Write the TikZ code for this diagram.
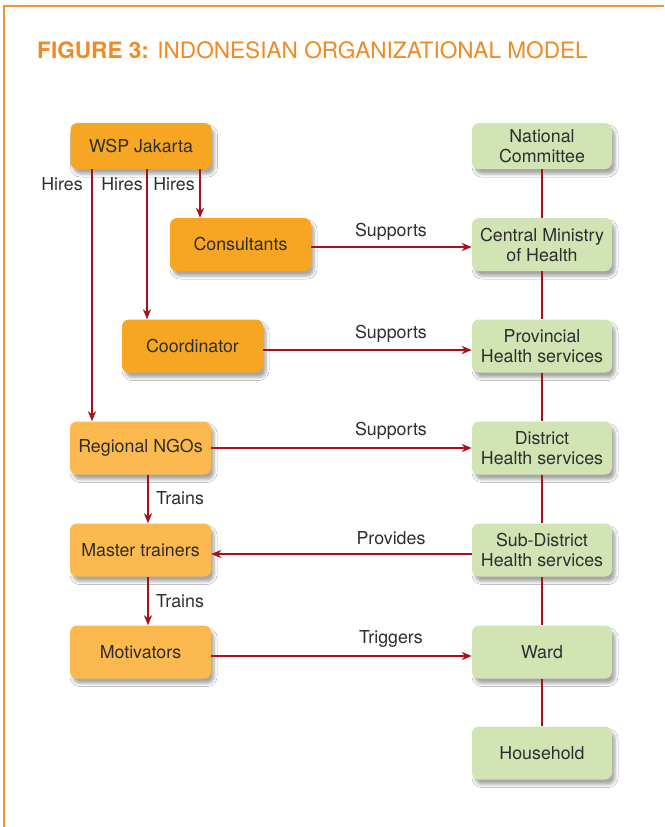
\documentclass[tikz,border=0pt]{standalone}
\usepackage{fontspec}
\setmainfont{TeX Gyre Heros}
\usetikzlibrary{arrows.meta,shadows.blur}
\definecolor{frameor}{HTML}{F39433}
\definecolor{titleor}{HTML}{F08A24}
\definecolor{darkor}{HTML}{F6A623}
\definecolor{lightor}{HTML}{FBB94F}
\definecolor{boxgreen}{HTML}{D2E4B4}
\definecolor{linered}{HTML}{A8101C}
\definecolor{txt}{HTML}{2E2E2E}
\begin{document}
\begin{tikzpicture}[x=1pt,y=-1pt,
  box/.style={rectangle, rounded corners=7pt, minimum width=141pt, minimum height=53pt,
    inner sep=0pt, text=txt, font=\fontsize{17.8}{20}\selectfont, align=center,
    blur shadow={shadow xshift=3pt, shadow yshift=-5pt, shadow blur radius=3pt, shadow opacity=35}},
  dbox/.style={box, fill=darkor},
  lbox/.style={box, fill=lightor},
  gbox/.style={box, fill=boxgreen, minimum width=140pt},
  lbl/.style={text=txt, font=\fontsize{17.8}{20}\selectfont, inner sep=0pt},
  conn/.style={draw=linered, line width=2pt},
  arr/.style={conn, -{Stealth[length=10pt,width=8pt,inset=3pt]}}
]
\useasboundingbox (0,0) rectangle (664,827);
\fill[white] (0,0) rectangle (664,827);
\draw[frameor, line width=1.6pt] (4,827) -- (4,6) -- (664,6);

\node[anchor=base west, text=titleor, inner sep=0pt, font=\fontsize{22.6}{26}\selectfont] (title) at (37,58)
  {\textbf{FIGURE 3:} INDONESIAN ORGANIZATIONAL MODEL};

% left column
\node[dbox, minimum height=46pt] (wsp) at (141,146) {WSP Jakarta};
\node[dbox] (cons) at (240.5,244.5) {Consultants};
\node[dbox] (coord) at (192.5,346) {Coordinator};
\node[lbox] (ngo) at (140.5,448) {Regional NGOs};
\node[lbox] (master) at (140.5,550) {Master trainers};
\node[lbox] (motiv) at (140.5,652) {Motivators};

% right column
\node[gbox, minimum height=46pt] (nat) at (542,146) {National\\Committee};
\node[gbox] (cmh) at (542,244.5) {Central Ministry\\of Health};
\node[gbox] (prov) at (542,346) {Provincial\\Health services};
\node[gbox] (dist) at (542,448) {District\\Health services};
\node[gbox] (sub) at (542,550) {Sub-District\\Health services};
\node[gbox] (ward) at (542,652) {Ward};
\node[gbox] (house) at (542,753) {Household};

% right column vertical links
\draw[conn] (nat.south) -- (cmh.north);
\draw[conn] (cmh.south) -- (prov.north);
\draw[conn] (prov.south) -- (dist.north);
\draw[conn] (dist.south) -- (sub.north);
\draw[conn] (sub.south) -- (ward.north);
\draw[conn] (ward.south) -- (house.north);

% hires
\draw[arr] ([xshift=-49pt]wsp.south) -- ([xshift=-49pt]wsp.south |- ngo.north);
\draw[arr] ([xshift=6pt]wsp.south) -- ([xshift=6pt]wsp.south |- coord.north);
\draw[arr] ([xshift=59pt]wsp.south) -- ([xshift=59pt]wsp.south |- cons.north);
\node[lbl, anchor=base] (h1) at (62,190) {Hires};
\node[lbl, anchor=base] (h2) at (122,190) {Hires};
\node[lbl, anchor=base] (h3) at (174,190) {Hires};

% trains
\draw[arr] ([xshift=7.5pt]ngo.south) -- ([xshift=7.5pt]master.north);
\draw[arr] ([xshift=7.5pt]master.south) -- ([xshift=7.5pt]motiv.north);
\node[lbl, anchor=base west] (t1) at (156,504) {Trains};
\node[lbl, anchor=base west] (t2) at (156,607) {Trains};

% horizontal relations
\draw[arr] ([yshift=-2.5pt]cons.east) -- ([yshift=-2.5pt]cons.east -| cmh.west);
\draw[arr] ([yshift=-4pt]coord.east) -- ([yshift=-4pt]coord.east -| prov.west);
\draw[arr] (ngo.east) -- (ngo.east -| dist.west);
\draw[arr] ([yshift=-4pt]sub.west) -- ([yshift=-4pt]sub.west -| master.east);
\draw[arr] ([yshift=-4pt]motiv.east) -- ([yshift=-4pt]motiv.east -| ward.west);
\node[lbl, anchor=base] (s1) at (391,236) {Supports};
\node[lbl, anchor=base] (s2) at (391,338) {Supports};
\node[lbl, anchor=base] (s3) at (391,435) {Supports};
\node[lbl, anchor=base] (p1) at (391,544) {Provides};
\node[lbl, anchor=base] (tr) at (391,643) {Triggers};
\end{tikzpicture}
\end{document}
